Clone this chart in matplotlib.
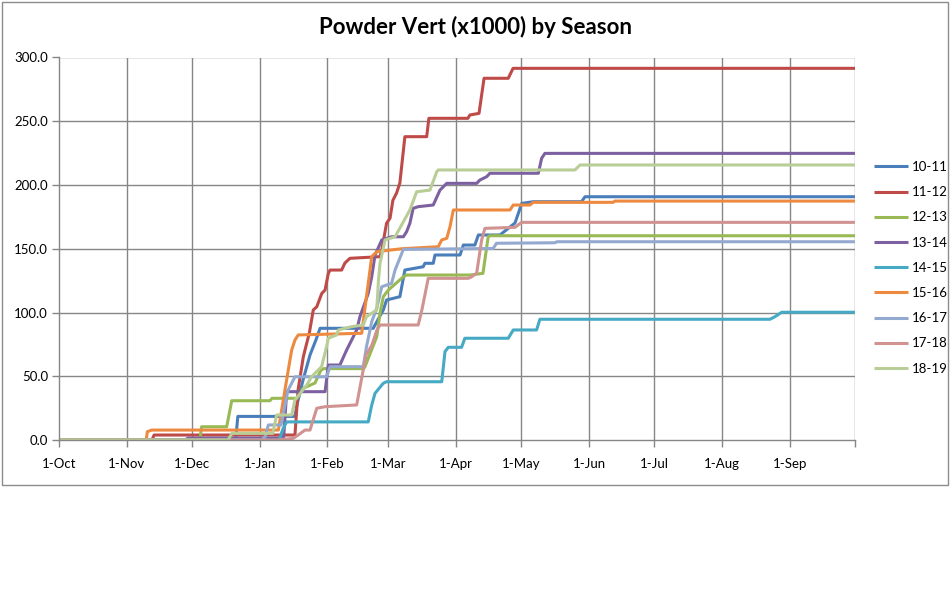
import matplotlib
matplotlib.use("Agg")
import matplotlib.pyplot as plt
from matplotlib.patches import Rectangle

# ---- data (days since 1-Oct, cumulative powder vert x1000) ----
month_labels = ["1-Oct", "1-Nov", "1-Dec", "1-Jan", "1-Feb", "1-Mar", "1-Apr",
                "1-May", "1-Jun", "1-Jul", "1-Aug", "1-Sep"]
month_days = [0, 31, 61, 92, 123, 151, 182, 212, 243, 273, 304, 335, 365]
seasons = ["10-11", "11-12", "12-13", "13-14", "14-15", "15-16", "16-17", "17-18", "18-19"]

d_1011 = [0, 81, 82, 108.2, 109.1, 111.9, 115.1, 117.8, 119.7, 144.1, 144.9, 148.7, 150.2, 156.3, 158.6,
          167, 167.8, 171.6, 172.4, 183.9, 185.4, 190.7, 192.3, 202.2, 209.1, 212.2, 217.5, 239.6, 241.2, 365]
v_1011 = [0, 0, 18.5, 18.5, 27.5, 47, 66.7, 78.4, 87.6, 87.6, 90.2, 102, 109.8, 112.4, 133.3,
          135.9, 138.6, 138.6, 145.1, 145.1, 152.9, 152.9, 160.8, 160.8, 170.2, 185.6, 186.9, 186.9, 190.8, 190.8]

d_1112 = [0, 42.6, 43.6, 108.2, 109.6, 112, 112.8, 114.8, 116.6, 118.2, 120.5, 122, 123.5, 124.3, 129.6,
          131.1, 133.4, 147.2, 148, 150.2, 151.8, 153.1, 154.8, 156.3, 158.6, 168.6, 169.6, 187.5, 188.4,
          192.6, 194.9, 206, 208.2, 365]
v_1112 = [0, 0, 3.9, 3.9, 39, 65, 70.6, 84, 102, 104.5, 115, 117.6, 130.7, 133.3, 133.3,
          138.8, 142.5, 143.8, 149, 170, 174, 188, 193.7, 201.6, 237.9, 237.9, 252.3, 252.3, 254.9,
          256.2, 283.7, 283.7, 291.5, 291.5]

d_1213 = [0, 64.6, 65.4, 76.9, 79.2, 96.7, 97.7, 109.1, 111.9, 117.4, 120.1, 121.5, 139.7, 140.3, 145.7,
          147.2, 148.7, 151, 157.9, 159.4, 188.4, 194.4, 196.8, 197.6, 365]
v_1213 = [0, 0, 10.4, 10.4, 30.8, 30.8, 32.7, 32.7, 40.5, 44.7, 54.9, 56, 56, 57.5, 81,
          99.4, 112.4, 117.6, 128, 129.4, 129.4, 130.7, 159.4, 160.2, 160.2]

d_1314 = [0, 58, 59, 103, 104.4, 122, 123.5, 128.8, 131.9, 134.2, 136.5, 138, 141.8, 143.4, 144.9,
          148, 152.5, 157.9, 159.4, 160.9, 162.4, 164.7, 171.6, 174.7, 177.8, 191.5, 193, 196.1, 197.6,
          219.8, 221.3, 222.8, 365]
v_1314 = [0, 0, 1.5, 1.5, 37.9, 37.9, 58.8, 58.8, 70.6, 78.4, 86.3, 96.7, 115, 128, 145,
          156.9, 159.4, 159.4, 163.4, 170, 181.7, 183, 184.3, 196, 201.3, 201.3, 203.9, 206.5, 209.2,
          209.2, 220.9, 224.8, 224.8]

d_1415 = [0, 100.9, 102.8, 104.4, 141.8, 143.4, 144.9, 148.7, 150.2, 175.5, 177, 178.5, 184.6, 186.1,
          206, 208.3, 219, 220.5, 326, 328.3, 331.4, 365]
v_1415 = [0, 0, 9.2, 14.2, 14.2, 27.4, 36.6, 44.5, 45.7, 45.7, 69.3, 72.7, 72.7, 79.8,
          79.8, 86.3, 86.3, 94.7, 94.7, 96.7, 100.2, 100.2]

d_1516 = [0, 40, 40.5, 42.5, 100.6, 103.6, 105.9, 106.7, 108.2, 109.7, 138.8, 141.8, 143.4, 145.7,
          157.1, 173.9, 175.5, 177.8, 179.3, 180.8, 206.8, 208.3, 215.9, 217.5, 254.1, 254.9, 365]
v_1516 = [0, 0, 6.5, 7.8, 7.8, 39.2, 62.7, 70.6, 78.4, 82.4, 83.7, 122.9, 143.8, 147.7,
          150, 151.6, 156.9, 158.2, 167.3, 180.4, 180.4, 184.3, 184.3, 186.4, 186.4, 187.4, 187.4]

d_1617 = [0, 93, 94.5, 96, 101.8, 105, 108.2, 122.7, 124.3, 139.5, 141, 143.4, 145.7, 148, 152.5,
          154.1, 157.9, 199.1, 200.6, 227.4, 228.3, 365]
v_1617 = [0, 0, 2.6, 11.8, 11.8, 39, 49.6, 49.6, 57.5, 57.5, 73.2, 92.8, 103.3, 120.2, 122.9,
          133.3, 149.5, 150.2, 154.3, 154.7, 155.5, 155.5]

d_1718 = [0, 100, 107.4, 109.7, 112.8, 115.1, 118.2, 122, 136.5, 139.5, 140.8, 143.5, 145.8, 147.2,
          164.7, 166.4, 169.3, 187.7, 189.2, 191.5, 193.8, 195.3, 209.1, 212.1, 365]
v_1718 = [0, 0, 1.3, 3.9, 7.8, 7.8, 24.9, 26.1, 27.5, 54.9, 66.7, 74.5, 86.3, 90.2,
          90.2, 102, 126.8, 126.8, 128, 130.7, 156.9, 166, 166.8, 170.7, 170.7]

d_1819 = [0, 77.5, 78.4, 79.3, 98, 99.8, 106.7, 108.2, 113.6, 115.8, 120.4, 122.7, 123.5, 127.3, 128.1,
          134.2, 139.5, 141, 145.7, 146.5, 147.2, 149.5, 154.1, 160.9, 164, 170.1, 173.2, 173.9, 236.6,
          238.9, 365]
v_1819 = [0, 0, 2.6, 5.2, 5.2, 19.6, 19.6, 31.4, 43.1, 49.6, 57.5, 73.2, 79.8, 82.4, 86.3,
          88.9, 90.2, 96.7, 102, 125.5, 138.6, 156.9, 159.4, 180.4, 194.7, 196, 210.4, 211.8, 211.8,
          215.7, 215.7]

days = [d_1011, d_1112, d_1213, d_1314, d_1415, d_1516, d_1617, d_1718, d_1819]
values = [v_1011, v_1112, v_1213, v_1314, v_1415, v_1516, v_1617, v_1718, v_1819]
colors = ["#4A7EBB", "#BE4B48", "#98B954", "#7D60A0", "#46AAC5", "#EE8A40",
          "#93A9CF", "#D09391", "#B9CD96"]

# ---- figure ----
plt.rcParams['font.family'] = ['Lato', 'DejaVu Sans']
W, H = 951, 614
fig = plt.figure(figsize=(W / 100, H / 100), dpi=100)
fig.patch.set_facecolor("white")

fig.add_artist(Rectangle((2 / W, 1 - 485 / H), 946 / W, 483 / H, transform=fig.transFigure,
                         fill=False, edgecolor="#8C8C8C", linewidth=1.0))

ax = fig.add_axes([59 / W, 1 - 440 / H, (855 - 59) / W, (440 - 57.5) / H])
grid_c = "#868686"
for d in month_days[1:]:
    ax.axvline(d, color=grid_c, linewidth=1.0, zorder=0)
for yv in range(50, 301, 50):
    ax.axhline(yv, color=grid_c, linewidth=1.0, zorder=0)

for s, d, v, c in zip(seasons, days, values, colors):
    ax.plot(d, v, color=c, linewidth=2.2, label=s, solid_joinstyle="round", solid_capstyle="butt")

ax.set_xlim(0, 365)
ax.set_ylim(0, 300)
ax.set_xticks(month_days)
ax.set_xticklabels(month_labels + [""])
ax.set_yticks(range(0, 301, 50))
ax.set_yticklabels([f"{y:.1f}" for y in range(0, 301, 50)])
for side in ["top", "right"]:
    ax.spines[side].set_visible(False)
for side in ["left", "bottom"]:
    ax.spines[side].set_color(grid_c)
    ax.spines[side].set_linewidth(1.0)
ax.tick_params(axis="both", colors=grid_c, labelcolor="black", labelsize=9.5, length=5, width=1)
ax.tick_params(axis="x", pad=8)
ax.tick_params(axis="y", pad=3)

fig.text(0.4995, 1 - 27 / H, "Powder Vert (x1000) by Season", ha="center", va="center",
         fontsize=16, fontweight="bold")

leg = fig.legend(*ax.get_legend_handles_labels(), loc="upper left",
                 bbox_to_anchor=(874 / W, 1 - 161 / H), frameon=False, fontsize=9.5,
                 handlelength=2.6, handletextpad=0.3, labelspacing=1.0, borderaxespad=0,
                 borderpad=0)

fig.savefig("out.png", dpi=100, facecolor="white")
